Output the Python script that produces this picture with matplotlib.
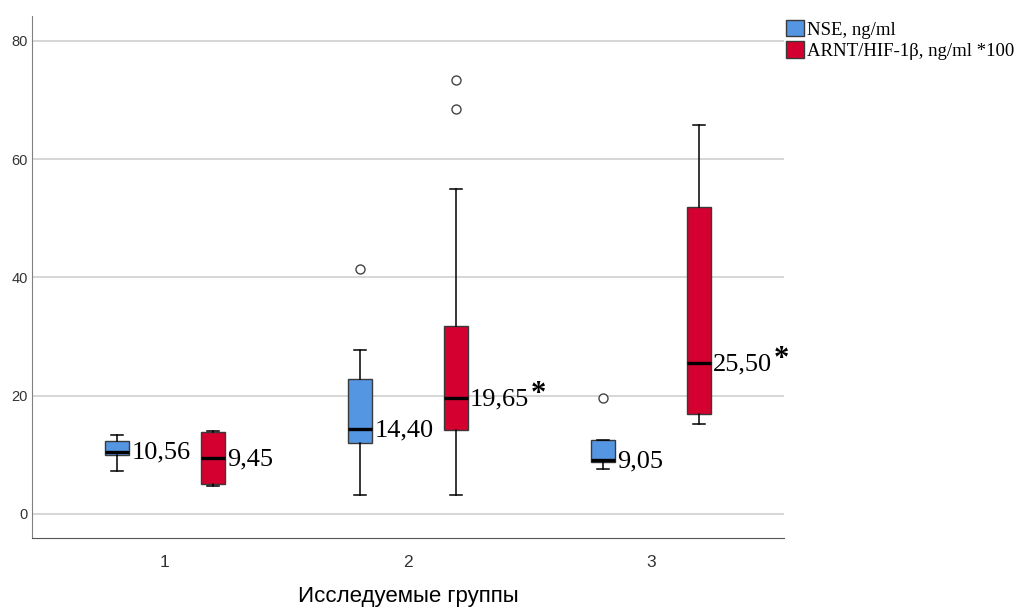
import matplotlib
matplotlib.use('Agg')
import matplotlib.pyplot as plt
from matplotlib.patches import Patch

# Groups and box statistics
groups = ['1', '2', '3']

nse_med = [10.56, 14.40, 9.05]
nse_q1 = [9.98, 11.95, 8.80]
nse_q3 = [12.40, 22.90, 12.46]
nse_lo = [7.30, 3.20, 7.66]
nse_hi = [13.36, 27.70, 12.46]
nse_out = [[], [41.4], [19.6]]
nse_star = [False, False, False]

arnt_med = [9.45, 19.65, 25.50]
arnt_q1 = [5.00, 14.15, 16.96]
arnt_q3 = [13.80, 31.80, 51.90]
arnt_lo = [4.80, 3.20, 15.20]
arnt_hi = [14.10, 55.00, 65.70]
arnt_out = [[], [68.5, 73.4], []]
arnt_star = [False, True, True]

series_names = ['NSE, ng/ml', 'ARNT/HIF-1\u03b2, ng/ml *100']
color_blue = '#5596e3'
color_red = '#d4002f'

serif = ['Liberation Serif', 'DejaVu Serif']
sans = ['Liberation Sans', 'DejaVu Sans']


def make_stats(med, q1, q3, lo, hi, out):
    return [dict(med=m, q1=a, q3=b, whislo=l, whishi=h, fliers=f)
            for m, a, b, l, h, f in zip(med, q1, q3, lo, hi, out)]


fig = plt.figure(figsize=(10.21, 6.14), dpi=100)
ax = fig.add_axes([32 / 1021, 1 - 538 / 614, (784 - 32) / 1021, (538 - 16) / 614])

width = 0.1
offset = 0.197
x = [i + 1 for i in range(len(groups))]

series = [
    (make_stats(nse_med, nse_q1, nse_q3, nse_lo, nse_hi, nse_out), nse_med, nse_star, color_blue, -offset),
    (make_stats(arnt_med, arnt_q1, arnt_q3, arnt_lo, arnt_hi, arnt_out), arnt_med, arnt_star, color_red, offset),
]

for stats, med, star, color, dx in series:
    pos = [p + dx for p in x]
    ax.bxp(stats, positions=pos, widths=width, patch_artist=True,
           capwidths=width * 0.5, manage_ticks=False,
           boxprops=dict(facecolor=color, edgecolor='#3a3a3a', linewidth=1.0),
           medianprops=dict(color='black', linewidth=2.4),
           whiskerprops=dict(color='black', linewidth=1.1),
           capprops=dict(color='black', linewidth=1.1),
           flierprops=dict(marker='o', markerfacecolor='white', markeredgecolor='#444444',
                           markersize=6.5, markeredgewidth=1.0))
    for p, m, s in zip(pos, med, star):
        label = ax.annotate(f'{m:.2f}'.replace('.', ','), xy=(p + width / 2, m),
                            xytext=(1.5, -1), textcoords='offset points',
                            ha='left', va='center', fontsize=19, family=serif)
        if s:
            ax.annotate('*', xy=(1, 1), xycoords=label, xytext=(1, 6),
                        textcoords='offset points', ha='left', va='top',
                        fontsize=22, fontweight='bold', family=serif)

ax.set_xlim(0.453, 3.547)
ax.set_ylim(-4.06, 84.2)
ax.set_xticks(x)
ax.set_xticklabels(groups, fontsize=12.5, family=sans, color='#333333')
ax.set_yticks([0, 20, 40, 60, 80])
ax.tick_params(axis='y', length=0, pad=3, labelsize=10.5, labelcolor='#333333')
ax.tick_params(axis='x', length=0, pad=12)
for lbl in ax.get_yticklabels():
    lbl.set_family(sans)

ax.grid(axis='y', color='#cfcfcf', linewidth=1.2)
ax.set_axisbelow(True)
ax.spines['top'].set_visible(False)
ax.spines['right'].set_visible(False)
ax.spines['left'].set_color('#808080')
ax.spines['bottom'].set_color('#555555')

ax.set_xlabel('Исследуемые группы', fontsize=16, family=sans, labelpad=12)

handles = [Patch(facecolor=color_blue, edgecolor='#3a3a3a', linewidth=1.0),
           Patch(facecolor=color_red, edgecolor='#3a3a3a', linewidth=1.0)]
fig.legend(handles, series_names, loc='upper left',
           bbox_to_anchor=(786 / 1021, 1 - 20 / 614), frameon=False,
           prop=dict(family=serif, size=13.5), handlelength=0.95, handleheight=0.95,
           handletextpad=0.15, labelspacing=0.15, borderpad=0, borderaxespad=0)

fig.savefig('out.png', dpi=100)
plt.close(fig)
